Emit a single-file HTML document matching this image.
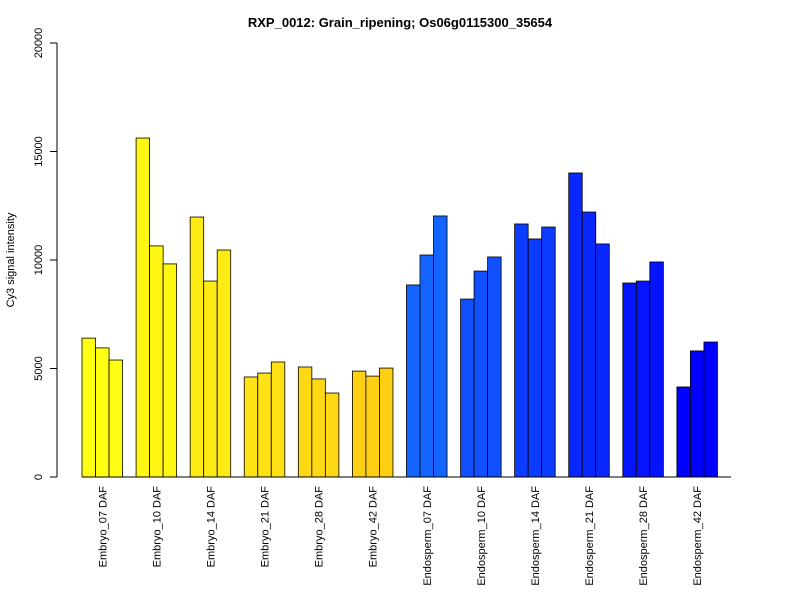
<!DOCTYPE html>
<html><head><meta charset="utf-8"><style>
body{margin:0;background:#fff}
svg text{font-family:"Liberation Sans",sans-serif;fill:#000}
</style></head><body>
<svg id="chart" width="800" height="600" xmlns="http://www.w3.org/2000/svg">
<text x="400" y="27" text-anchor="middle" font-size="13" font-weight="bold">RXP_0012: Grain_ripening; Os06g0115300_35654</text>
<text transform="translate(14,260) rotate(-90)" text-anchor="middle" font-size="11">Cy3 signal intensity</text>
<g id="yaxis"></g>
<g id="bars"></g>
<g id="xlabels"></g>
<line x1="82" y1="477" x2="731" y2="477" stroke="#000"/>
</svg>
<script>
const categories = ["Embryo_07 DAF","Embryo_10 DAF","Embryo_14 DAF","Embryo_21 DAF","Embryo_28 DAF","Embryo_42 DAF","Endosperm_07 DAF","Endosperm_10 DAF","Endosperm_14 DAF","Endosperm_21 DAF","Endosperm_28 DAF","Endosperm_42 DAF"];
const rep1 = [6400,15620,11980,4610,5070,4880,8850,8200,11660,14010,8940,4150];
const rep2 = [5950,10650,9030,4790,4520,4650,10230,9490,10970,12210,9030,5810];
const rep3 = [5390,9820,10460,5300,3870,5020,12030,10140,11520,10740,9910,6220];
const colors = ["#FFFF14","#FFF614","#FFEB14","#FFE114","#FFD814","#FFCF14","#1464FF","#1050FF","#0C3CFF","#0828FF","#0414FF","#0000FF"];
const yTicks = [0,5000,10000,15000,20000];
const NS="http://www.w3.org/2000/svg";
const y0=477, yTop=43, yMax=20000;
const yScale=v=>y0-(v/yMax)*(y0-yTop);
const bw=13.52, x0=82;
const xScale=(g,r)=>x0+(g*4+r)*bw;
const yax=document.getElementById('yaxis');
let l=document.createElementNS(NS,'line');
l.setAttribute('x1',57);l.setAttribute('x2',57);l.setAttribute('y1',yScale(0));l.setAttribute('y2',yScale(yMax));l.setAttribute('stroke','#000');


yax.appendChild(l);
yTicks.forEach(t=>{
  const y=yScale(t);
  const tk=document.createElementNS(NS,'line');
  tk.setAttribute('x1',50);tk.setAttribute('x2',57);tk.setAttribute('y1',y);tk.setAttribute('y2',y);tk.setAttribute('stroke','#000');
  
  
  yax.appendChild(tk);
  const tx=document.createElementNS(NS,'text');
  tx.setAttribute('transform',`translate(42,${y}) rotate(-90)`);tx.setAttribute('text-anchor','middle');tx.setAttribute('font-size','11');
  tx.textContent=t;
  
  
  yax.appendChild(tx);
});
const bars=document.getElementById('bars'), xl=document.getElementById('xlabels');
const series=[rep1,rep2,rep3];
categories.forEach((c,g)=>{
  series.forEach((s,r)=>{
    const rc=document.createElementNS(NS,'rect');
    const x=xScale(g,r), y=yScale(s[g]);
    rc.setAttribute('x',x);rc.setAttribute('y',y);rc.setAttribute('width',bw);rc.setAttribute('height',y0-y);
    rc.setAttribute('fill',colors[g]);rc.setAttribute('stroke','#000');rc.setAttribute('stroke-width','0.8');
    
    
    bars.appendChild(rc);
  });
  const cx=xScale(g,1.5)+4;
  const tx=document.createElementNS(NS,'text');
  tx.setAttribute('transform',`translate(${cx},486) rotate(-90)`);tx.setAttribute('text-anchor','end');tx.setAttribute('font-size','11');
  tx.textContent=c;
  
  
  xl.appendChild(tx);
});
</script>
</body></html>
